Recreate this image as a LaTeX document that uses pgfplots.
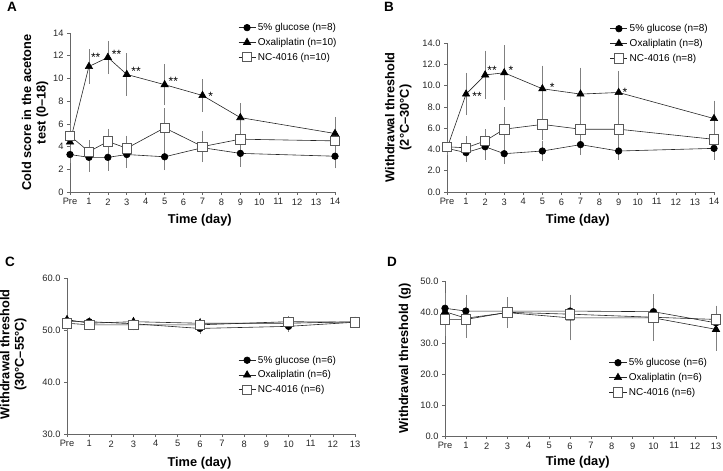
\documentclass[border=0pt]{standalone}
\usepackage{pgfplots}
\pgfplotsset{compat=1.18}
\usepackage{fontspec}
\setmainfont{Liberation Sans}
\begin{document}
\begin{tikzpicture}
\useasboundingbox (0pt,0pt) rectangle (723pt,471pt);
\pgfplotsset{
  panel/.style={
    scale only axis, clip=false,
    axis lines=left, axis line style={-, draw=black!60, line width=0.6pt},
    tick align=outside, major tick length=3pt,
    tick style={draw=black!60, line width=0.6pt},
    ticklabel style={font=\fontsize{9.3}{10}\selectfont, text=black!85},
    /pgf/number format/assume math mode=true,
    xlabel={Time (day)},
    xlabel style={font=\bfseries\fontsize{12.8}{14}\selectfont, anchor=center},
    ylabel style={font=\bfseries\fontsize{12.8}{14.5}\selectfont, align=center, anchor=center},
    legend style={draw=none, fill=none, font=\fontsize{10}{11}\selectfont, anchor=north west, inner sep=0pt, row sep=2pt},
    legend cell align=left,
  },
  glc/.style={black!85, line width=0.6pt, mark=*, mark size=3.3pt, mark options={fill=black, draw=black},
    error bars/.cd, y dir=both, y explicit, error bar style={draw=black!50, line width=0.6pt},
    error mark options={draw=black!50, mark size=3pt, line width=0.6pt}},
  oxa/.style={black!85, line width=0.6pt, mark=triangle*, mark size=4.2pt, mark options={fill=black, draw=black},
    error bars/.cd, y dir=both, y explicit, error bar style={draw=black!50, line width=0.6pt},
    error mark options={draw=black!50, mark size=3pt, line width=0.6pt}},
  ncc/.style={black!85, line width=0.6pt, mark=square*, mark size=4.7pt, mark options={fill=white, draw=black!65, line width=0.7pt},
    error bars/.cd, y dir=both, y explicit, error bar style={draw=black!50, line width=0.6pt},
    error mark options={draw=black!50, mark size=3pt, line width=0.6pt}},
}
\tikzset{ast/.style={font=\fontsize{12}{12}\selectfont, yshift=-2.4pt, inner sep=0pt}}

% Panel A
\begin{scope}[shift={(70pt,279pt)}]
\begin{axis}[panel, at={(0pt,0pt)}, anchor=south west, width=265pt, height=159pt,
  xmin=0, xmax=14, ymin=0, ymax=14,
  xtick={0,...,14}, xticklabels={Pre,1,2,3,4,5,6,7,8,9,10,11,12,13,14},
  ytick={0,2,...,14},
  ylabel={Cold score in the acetone\\test (0--18)},
  ylabel style={at={(axis description cs:-0.132,0.5)}},
  xlabel style={at={(axis description cs:0.49,0)}, yshift=-28pt},
  legend style={at={(0.634,1.075)}}]
\addplot[glc] coordinates {(0,3.3)+-(0,0.5) (1,3.05)+-(0,1.0) (2,3.05)+-(0,0.9) (3,3.3)+-(0,0.9) (5,3.1)+-(0,0.9) (7,3.9)+-(0,0.9) (9,3.4)+-(0,0.9) (14,3.15)+-(0,0.8)};
\addlegendentry{5\% glucose (n=8)}
\addplot[oxa] coordinates {(0,4.4)+-(0,0.8) (1,11.05)+-(0,1.25) (2,11.85)+-(0,1.2) (3,10.35)+-(0,1.6) (5,9.45)+-(0,1.55) (7,8.5)+-(0,1.15) (9,6.55)+-(0,1.0) (14,5.15)+-(0,1.2)};
\addlegendentry{Oxaliplatin (n=10)}
\addplot[ncc] coordinates {(0,4.95)+-(0,0.9) (1,3.55)+-(0,0.75) (2,4.45)+-(0,0.85) (3,3.85)+-(0,0.85) (5,5.65)+-(0,1.45) (7,4.0)+-(0,1.1) (9,4.65)+-(0,0.9) (14,4.5)+-(0,0.4)};
\addlegendentry{NC-4016 (n=10)}
\node[ast] at (axis cs:1.36,12.09) {**};
\node[ast] at (axis cs:2.46,12.3) {**};
\node[ast] at (axis cs:3.49,10.83) {**};
\node[ast] at (axis cs:5.46,9.95) {**};
\node[ast] at (axis cs:7.43,8.63) {*};
\end{axis}
\end{scope}

% Panel B
\begin{scope}[shift={(447pt,279pt)}]
\begin{axis}[panel, at={(0pt,0pt)}, anchor=south west, width=267pt, height=149pt,
  xmin=0, xmax=14, ymin=0, ymax=14,
  xtick={0,...,14}, xticklabels={Pre,1,2,3,4,5,6,7,8,9,10,11,12,13,14},
  ytick={0,2,...,14},
  yticklabel style={/pgf/number format/.cd, fixed, fixed zerofill, precision=1},
  ylabel={Withdrawal threshold\\(2°C--30°C)},
  ylabel style={at={(axis description cs:-0.182,0.5)}},
  xlabel style={at={(axis description cs:0.49,0)}, yshift=-28pt},
  legend style={at={(0.610,1.14)}}]
\addplot[glc] coordinates {(0,4.1)+-(0,0.3) (1,3.7)+-(0,0.6) (2,4.25)+-(0,0.95) (3,3.6)+-(0,0.7) (5,3.85)+-(0,0.7) (7,4.45)+-(0,0.7) (9,3.85)+-(0,0.55) (14,4.1)+-(0,0.8)};
\addlegendentry{5\% glucose (n=8)}
\addplot[oxa] coordinates {(0,4.1)+-(0,0.3) (1,9.2)+-(0,1.7) (2,11.0)+-(0,2.0) (3,11.2)+-(0,2.3) (5,9.7)+-(0,1.9) (7,9.2)+-(0,2.2) (9,9.35)+-(0,1.75) (14,6.9)+-(0,1.4)};
\addlegendentry{Oxaliplatin (n=8)}
\addplot[ncc] coordinates {(0,4.25)+-(0,0.3) (1,4.15)+-(0,0.85) (2,4.8)+-(0,0.8) (3,5.9)+-(0,1.8) (5,6.35)+-(0,1.2) (7,5.9)+-(0,1.25) (9,5.9)+-(0,1.25) (14,4.95)+-(0,0.6)};
\addlegendentry{NC-4016 (n=8)}
\node[ast] at (axis cs:1.58,9.17) {**};
\node[ast] at (axis cs:2.36,11.66) {**};
\node[ast] at (axis cs:3.36,11.66) {*};
\node[ast] at (axis cs:5.51,10.1) {*};
\node[ast] at (axis cs:9.33,9.63) {*};
\end{axis}
\end{scope}

% Panel C
\begin{scope}[shift={(67pt,37pt)}]
\begin{axis}[panel, at={(0pt,0pt)}, anchor=south west, width=288pt, height=156pt,
  xmin=0, xmax=13, ymin=30, ymax=60,
  xtick={0,...,13}, xticklabels={Pre,1,2,3,4,5,6,7,8,9,10,11,12,13},
  ytick={30,40,50,60},
  yticklabel style={/pgf/number format/.cd, fixed, fixed zerofill, precision=1},
  ylabel={Withdrawal threshold\\(30°C--55°C)},
  ylabel style={at={(axis description cs:-0.186,0.51)}},
  xlabel style={at={(axis description cs:0.46,0)}, yshift=-28.7pt},
  legend style={at={(0.594,0.515)}}]
\addplot[glc] coordinates {(0,51.6)+-(0,0.5) (1,51.6)+-(0,0.4) (3,51.2)+-(0,0.4) (6,50.3)+-(0,0.5) (10,50.7)+-(0,0.5) (13,51.5)+-(0,0.4)};
\addlegendentry{5\% glucose (n=6)}
\addplot[oxa] coordinates {(0,52.0)+-(0,1.2) (1,51.3)+-(0,0.4) (3,51.6)+-(0,0.4) (6,51.3)+-(0,0.5) (10,51.3)+-(0,0.5) (13,51.6)+-(0,0.4)};
\addlegendentry{Oxaliplatin (n=6)}
\addplot[ncc] coordinates {(0,51.3)+-(0,0.9) (1,51.0)+-(0,0.5) (3,51.0)+-(0,0.5) (6,51.0)+-(0,0.6) (10,51.6)+-(0,0.5) (13,51.5)+-(0,0.4)};
\addlegendentry{NC-4016 (n=6)}
\end{axis}
\end{scope}

% Panel D
\begin{scope}[shift={(445pt,35pt)}]
\begin{axis}[panel, at={(0pt,0pt)}, anchor=south west, width=271pt, height=155pt,
  xmin=0, xmax=13, ymin=0, ymax=50,
  xtick={0,...,13}, xticklabels={Pre,1,2,3,4,5,6,7,8,9,10,11,12,13},
  ytick={0,10,...,50},
  yticklabel style={/pgf/number format/.cd, fixed, fixed zerofill, precision=1},
  ylabel={Withdrawal threshold (g)},
  ylabel style={at={(axis description cs:-0.148,0.5)}},
  xlabel style={at={(axis description cs:0.49,0)}, yshift=-26pt},
  legend style={at={(0.605,0.515)}}]
\addplot[glc] coordinates {(0,41.2)+-(0,4.0) (1,40.3)+-(0,4.3) (3,40.3)+-(0,3.3) (6,40.3)+-(0,4.3) (10,40.1)+-(0,4.6) (13,36.5)+-(0,4.5)};
\addlegendentry{5\% glucose (n=6)}
\addplot[oxa] coordinates {(0,40.1)+-(0,5.0) (1,38.0)+-(0,5.3) (3,39.8)+-(0,4.0) (6,38.1)+-(0,6.3) (10,38.1)+-(0,6.5) (13,34.4)+-(0,6.0)};
\addlegendentry{Oxaliplatin (n=6)}
\addplot[ncc] coordinates {(0,37.6)+-(0,4.5) (1,37.6)+-(0,5.0) (3,39.9)+-(0,3.5) (6,39.3)+-(0,5.0) (10,38.3)+-(0,6.5) (13,37.6)+-(0,3.5)};
\addlegendentry{NC-4016 (n=6)}
\end{axis}
\end{scope}

\node[font=\bfseries\fontsize{13.5}{14}\selectfont, anchor=center] at (12pt,464pt) {A};
\node[font=\bfseries\fontsize{13.5}{14}\selectfont, anchor=center] at (389pt,464pt) {B};
\node[font=\bfseries\fontsize{13.5}{14}\selectfont, anchor=center] at (10pt,209pt) {C};
\node[font=\bfseries\fontsize{13.5}{14}\selectfont, anchor=center] at (392pt,209pt) {D};
\end{tikzpicture}
\end{document}
